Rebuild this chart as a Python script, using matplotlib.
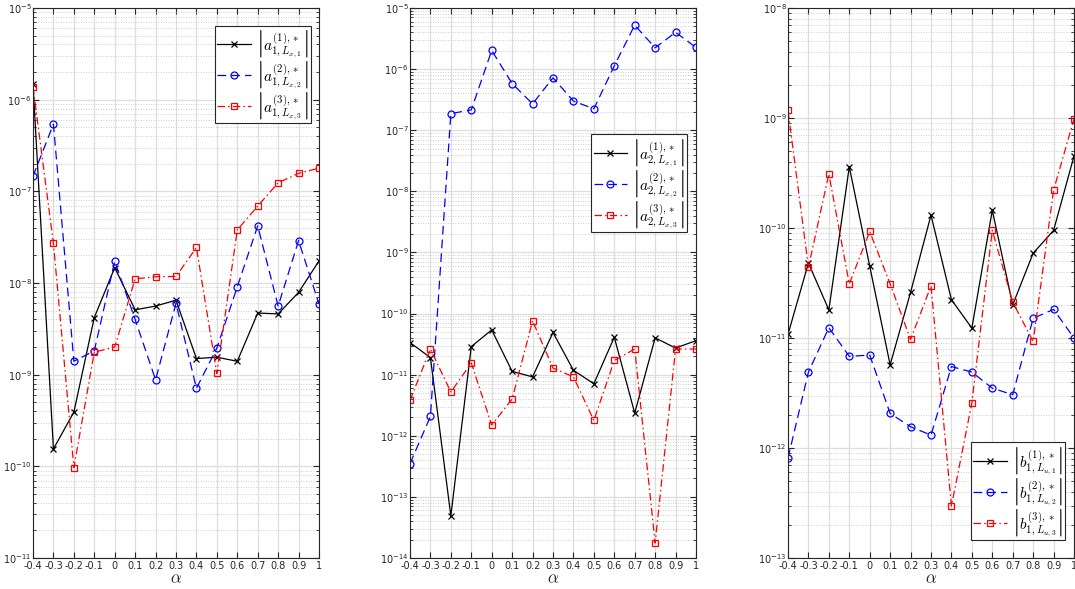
import numpy as np
import matplotlib
matplotlib.use('Agg')
import matplotlib.pyplot as plt
from matplotlib.ticker import LogLocator, NullFormatter

plt.rcParams['mathtext.fontset'] = 'cm'
plt.rcParams['font.family'] = ['DejaVu Sans']

alpha = [-0.4, -0.3, -0.2, -0.1, 0.0, 0.1, 0.2, 0.3, 0.4, 0.5, 0.6, 0.7, 0.8, 0.9, 1.0]
xtick_labels = ['-0.4', '-0.3', '-0.2', '-0.1', '0', '0.1', '0.2', '0.3', '0.4',
                '0.5', '0.6', '0.7', '0.8', '0.9', '1']

# ==== panel 1: a_{1,L_x} ====
a1_s1 = [1.48e-6, 1.55e-10, 3.9e-10, 4.2e-9, 1.47e-8, 5.1e-9, 5.6e-9, 6.5e-9,
         1.5e-9, 1.55e-9, 1.4e-9, 4.7e-9, 4.6e-9, 7.9e-9, 1.74e-8]
a1_s2 = [1.46e-7, 5.4e-7, 1.4e-9, 1.82e-9, 1.73e-8, 4.0e-9, 8.8e-10, 6.0e-9,
         7.1e-10, 1.95e-9, 9.1e-9, 4.2e-8, 5.6e-9, 2.9e-8, 5.9e-9]
a1_s3 = [1.38e-6, 2.7e-8, 9.7e-11, 1.76e-9, 2.0e-9, 1.11e-8, 1.17e-8, 1.18e-8,
         2.44e-8, 1.03e-9, 3.8e-8, 6.9e-8, 1.24e-7, 1.57e-7, 1.79e-7]

# ==== panel 2: a_{2,L_x} ====
a2_s1 = [3.35e-11, 1.9e-11, 4.9e-14, 2.88e-11, 5.4e-11, 1.13e-11, 9.2e-12, 4.9e-11,
         1.18e-11, 7.1e-12, 4.1e-11, 2.35e-12, 4.0e-11, 2.73e-11, 3.6e-11]
a2_s2 = [3.5e-13, 2.07e-12, 1.87e-7, 2.15e-7, 2.02e-6, 5.8e-7, 2.7e-7, 7.2e-7,
         3.0e-7, 2.24e-7, 1.13e-6, 5.25e-6, 2.23e-6, 4.0e-6, 2.26e-6]
a2_s3 = [3.8e-12, 2.63e-11, 5.2e-12, 1.55e-11, 1.5e-12, 4.0e-12, 7.6e-11, 1.28e-11,
         9.2e-12, 1.78e-12, 1.71e-11, 2.63e-11, 1.76e-14, 2.63e-11, 2.63e-11]

# ==== panel 3: b_{1,L_u} ====
b1_s1 = [1.08e-11, 4.8e-11, 1.8e-11, 3.6e-10, 4.5e-11, 5.7e-12, 2.6e-11, 1.31e-10,
         2.23e-11, 1.23e-11, 1.45e-10, 2.0e-11, 5.9e-11, 9.5e-11, 4.5e-10]
b1_s2 = [8.1e-13, 4.9e-12, 1.24e-11, 6.8e-12, 7.0e-12, 2.06e-12, 1.56e-12, 1.31e-12,
         5.5e-12, 4.9e-12, 3.5e-12, 3.05e-12, 1.51e-11, 1.82e-11, 1.0e-11]
b1_s3 = [1.17e-9, 4.4e-11, 3.1e-10, 3.1e-11, 9.3e-11, 3.1e-11, 9.7e-12, 2.97e-11,
         2.97e-13, 2.57e-12, 9.5e-11, 2.12e-11, 9.3e-12, 2.2e-10, 9.8e-10]

labels1 = [r'$\left|a^{(1),*}_{1,L_{x,1}}\right|$', r'$\left|a^{(2),*}_{1,L_{x,2}}\right|$',
           r'$\left|a^{(3),*}_{1,L_{x,3}}\right|$']
labels2 = [r'$\left|a^{(1),*}_{2,L_{x,1}}\right|$', r'$\left|a^{(2),*}_{2,L_{x,2}}\right|$',
           r'$\left|a^{(3),*}_{2,L_{x,3}}\right|$']
labels3 = [r'$\left|b^{(1),*}_{1,L_{u,1}}\right|$', r'$\left|b^{(2),*}_{1,L_{u,2}}\right|$',
           r'$\left|b^{(3),*}_{1,L_{u,3}}\right|$']

panels = [
    ([a1_s1, a1_s2, a1_s3], labels1, (1e-11, 1e-5), 'upper right', (0.971, 0.968)),
    ([a2_s1, a2_s2, a2_s3], labels2, (1e-14, 1e-5), 'upper right', (0.969, 0.770)),
    ([b1_s1, b1_s2, b1_s3], labels3, (1e-13, 1e-8), 'lower right', (0.969, 0.033)),
]
lefts = [33 / 1075, 410 / 1075, 788 / 1075]

styles = [
    dict(color='black', linestyle='-', marker='x'),
    dict(color='blue', linestyle=(0, (7, 4)), marker='o', markerfacecolor='none'),
    dict(color='red', linestyle=(0, (6, 2.5, 1.2, 2.5)), marker='s', markerfacecolor='none'),
]

axcol = '#262626'
fig = plt.figure(figsize=(10.75, 5.89), dpi=100)

for (series, labels, ylim, loc, anchor), left in zip(panels, lefts):
    ax = fig.add_axes([left, 1 - 558 / 589, 286 / 1075, 550 / 589])
    for vals, lab, st in zip(series, labels, styles):
        ax.plot(alpha, vals, linewidth=0.9, markersize=5, markeredgewidth=0.9, label=lab, **st)
    ax.set_yscale('log')
    ax.set_ylim(*ylim)
    ax.set_xlim(-0.4, 1.0)
    ax.set_xticks(alpha)
    ax.set_xticklabels(xtick_labels)
    ax.yaxis.set_major_locator(LogLocator(base=10, numticks=20))
    ax.yaxis.set_minor_locator(LogLocator(base=10, subs=np.arange(2, 10), numticks=200))
    ax.yaxis.set_minor_formatter(NullFormatter())
    ax.grid(True, which='major', color='#dedede', linewidth=0.9)
    ax.grid(True, which='minor', axis='y', color='#bdbdbd', linestyle=(0, (1, 2)), linewidth=0.6)
    ax.set_axisbelow(True)
    ax.tick_params(which='both', direction='in', top=True, right=True, colors=axcol, pad=2)
    ax.tick_params(axis='x', labelsize=7)
    ax.tick_params(axis='y', labelsize=7, pad=1)
    ax.tick_params(which='major', length=4)
    ax.tick_params(which='minor', length=2)
    for sp in ax.spines.values():
        sp.set_color(axcol)
        sp.set_linewidth(0.8)
    ax.set_xlabel(r'$\alpha$', fontsize=12, color=axcol, labelpad=-1)
    leg = ax.legend(loc=loc, bbox_to_anchor=anchor, fontsize=11, fancybox=False,
                    framealpha=1, edgecolor=axcol, handlelength=2.2, borderpad=0.15,
                    labelspacing=0.0, handletextpad=0.35, borderaxespad=0)
    leg.get_frame().set_linewidth(0.8)

plt.savefig('out.png', dpi=100)
